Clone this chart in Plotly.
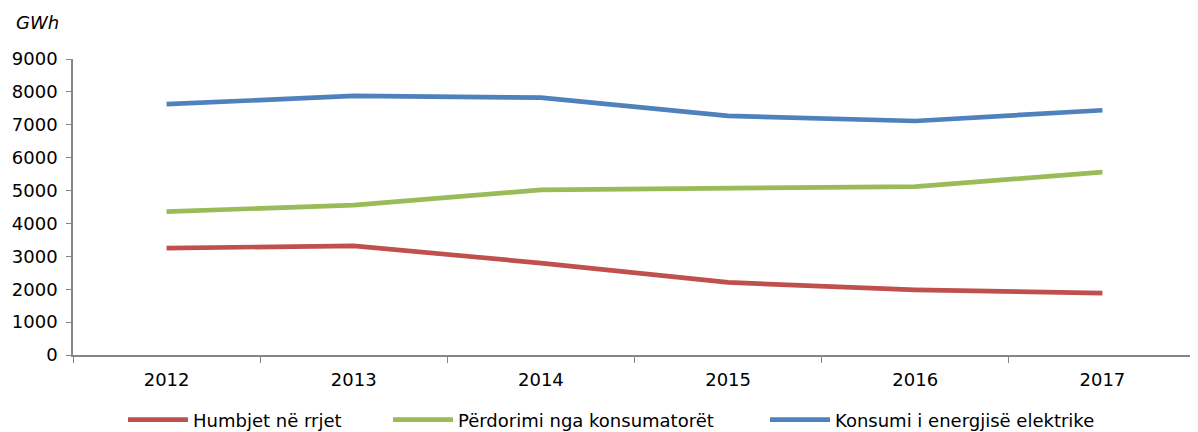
import plotly.graph_objects as go

years = ["2012", "2013", "2014", "2015", "2016", "2017"]
humbjet = [3250, 3320, 2795, 2206, 1983, 1883]
perdorimi = [4362, 4556, 5021, 5072, 5122, 5560]
konsumi = [7625, 7877, 7825, 7270, 7115, 7442]

series = [
    ("Humbjet në rrjet", humbjet, "#C0504D", "legend", 115),
    ("Përdorimi nga konsumatorët", perdorimi, "#9BBB59", "legend2", 380),
    ("Konsumi i energjisë elektrike", konsumi, "#4F81BD", "legend3", 757),
]

W, H = 1190, 424
font = "DejaVu Sans, sans-serif"

fig = go.Figure()
legends = {}
for name, vals, col, lg, lx in series:
    fig.add_trace(go.Scatter(x=years, y=vals, name=name, mode="lines", legend=lg,
                             line=dict(color=col, width=4.7)))
    legends[lg] = dict(orientation="h", xref="container", x=lx / W, xanchor="left",
                       yref="container", y=(H - 412) / H, yanchor="middle",
                       font=dict(size=18, family=font), itemwidth=60,
                       bgcolor="rgba(0,0,0,0)")

fig.update_layout(
    width=W, height=H,
    margin=dict(l=65, r=2, t=51, b=77, autoexpand=False),
    paper_bgcolor="white", plot_bgcolor="white",
    font=dict(family=font, size=18, color="black"),
    showlegend=True,
    xaxis=dict(type="category", range=[-0.5, 5.5], showline=True, linecolor="#868686",
               linewidth=1.5, ticks="outside", tickson="boundaries", ticklen=6,
               tickcolor="#868686", showgrid=False, tickfont=dict(size=18),
               ticklabelstandoff=8),
    yaxis=dict(range=[0, 9000], dtick=1000, showline=True, linecolor="#868686",
               linewidth=1.5, ticks="outside", ticklen=5, tickcolor="#868686",
               showgrid=False, zeroline=False, tickfont=dict(size=18),
               ticklabelstandoff=5),
    annotations=[dict(text="<i>GWh</i>", xref="paper", yref="paper", x=-0.0525, y=1.125,
                      xanchor="left", yanchor="middle", showarrow=False,
                      font=dict(size=18))],
    **legends,
)
fig.write_html("out.html")
